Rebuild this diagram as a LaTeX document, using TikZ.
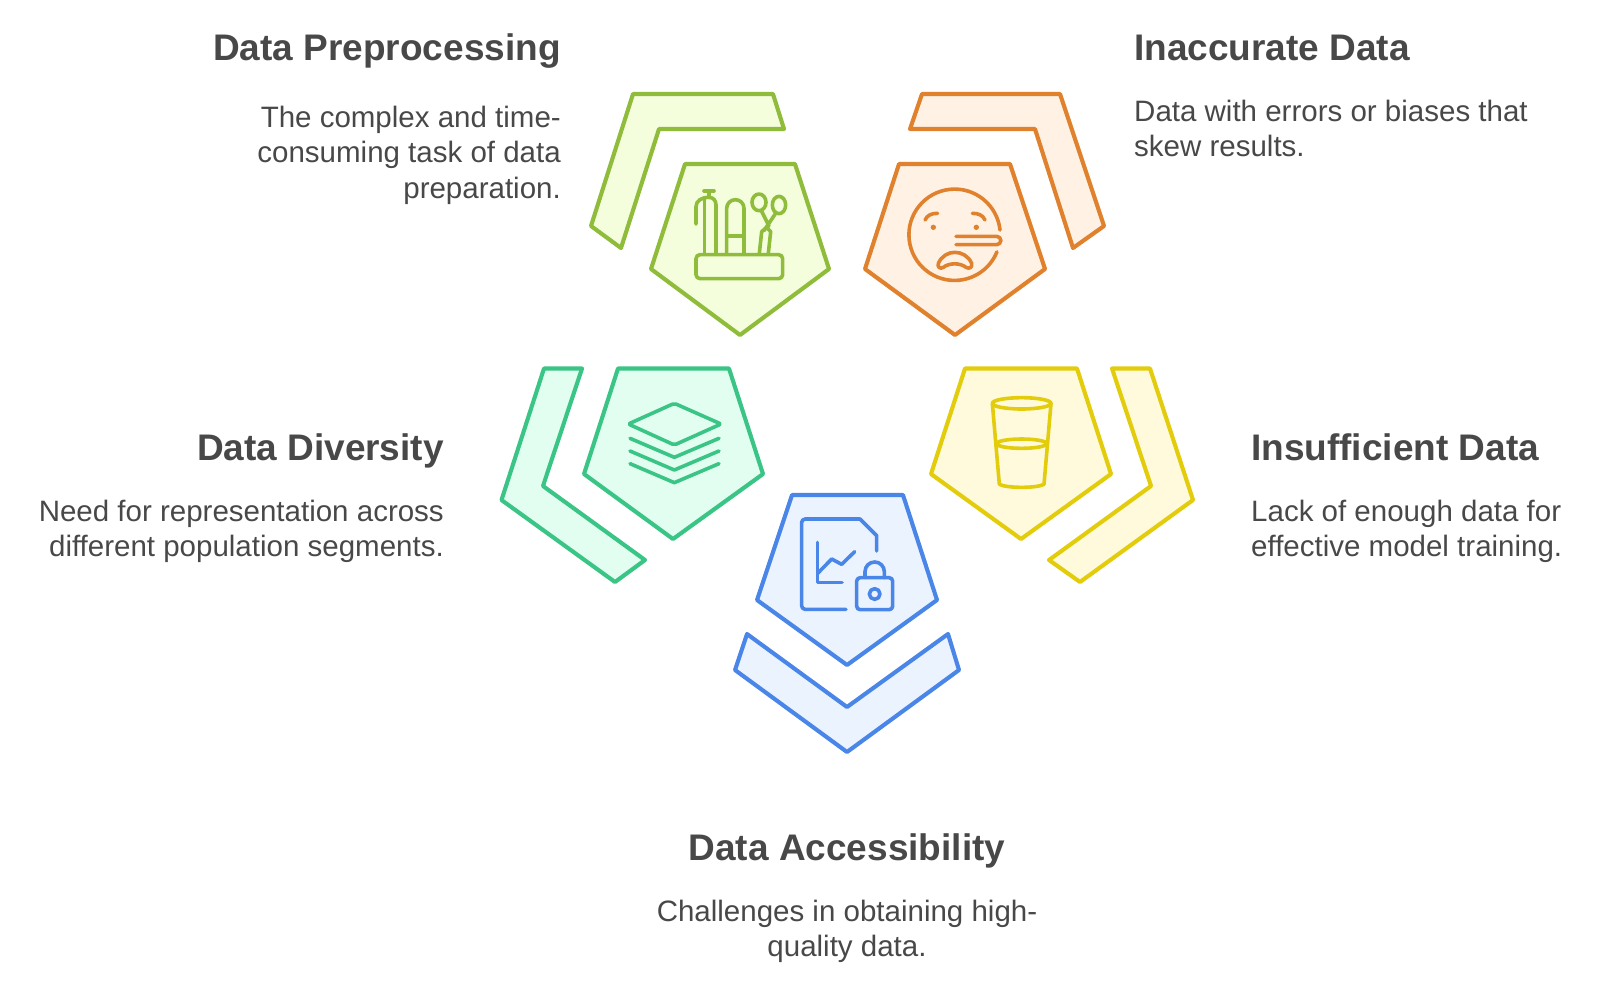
\documentclass[tikz,border=0pt]{standalone}
\usepackage{xcolor}
\usepackage{fontspec}
\setmainfont{Liberation Sans}
\definecolor{ink}{HTML}{484848}
\definecolor{lime}{HTML}{8FBC3B}
\definecolor{limebg}{HTML}{F4FEDD}
\definecolor{amber}{HTML}{E0812D}
\definecolor{amberbg}{HTML}{FFF1E4}
\definecolor{teal}{HTML}{3AC586}
\definecolor{tealbg}{HTML}{E2FEF0}
\definecolor{sun}{HTML}{E2CC0C}
\definecolor{sunbg}{HTML}{FFFADC}
\definecolor{azure}{HTML}{4A86E8}
\definecolor{azurebg}{HTML}{EBF3FF}
\tikzset{
  outline/.style={draw=#1, fill=#1bg, line width=4.1pt, line join=round},
  icon/.style={draw=#1, line width=3.6pt, line cap=round, line join=round},
  head/.style={text=ink, inner sep=0pt, font=\fontsize{37}{44}\selectfont\bfseries},
  body/.style={text=ink, inner sep=0pt, font=\fontsize{29.5}{35.3}\selectfont},
}
\begin{document}
\begin{tikzpicture}[x=1pt,y=-1pt]
  \useasboundingbox (0,0) rectangle (1600,988);
  % pentagons and bands
  \draw[outline=lime] (685,164) -- (795,164) -- (829,269) -- (740,335) -- (651,269) -- cycle;
  \draw[outline=lime] (633,94) -- (773,94) -- (784,129) -- (659,129) -- (621,248) -- (591,226) -- cycle;
  \draw[outline=amber] (899,164) -- (1010,164) -- (1045,269) -- (955,335) -- (865,269) -- cycle;
  \draw[outline=amber] (922,94) -- (1060,94) -- (1104,226) -- (1073,248) -- (1035,129) -- (910,129) -- cycle;
  \draw[outline=teal] (618,368.5) -- (729,368.5) -- (763,474) -- (673,539) -- (584,474) -- cycle;
  \draw[outline=teal] (544,368.5) -- (582,368.5) -- (543,486) -- (645,560) -- (615,582) -- (501.5,500) -- cycle;
  \draw[outline=sun] (965,368.5) -- (1077,368.5) -- (1111,474) -- (1021,539) -- (931,474) -- cycle;
  \draw[outline=sun] (1112,368.5) -- (1150,368.5) -- (1193,500) -- (1080,582) -- (1049,560) -- (1151,486) -- cycle;
  \draw[outline=azure] (792,495) -- (903,495) -- (937,600) -- (847,665) -- (757,600) -- cycle;
  \draw[outline=azure] (747,634) -- (847,707) -- (948,634) -- (959,670) -- (847,752) -- (735,670) -- cycle;
  % preprocessing icon
  \begin{scope}[shift={(570,80)},scale=1/3,icon=lime]
    \draw[rounded corners=4pt] (378,524) rectangle (638,596);
    \draw (402,333) -- (432,333) (417,333) -- (417,352);
    \draw (378,432) -- (378,380) .. controls (378,362) and (395,352) .. (417,352) .. controls (430,352) and (438,362) .. (438,375) -- (438,520);
    \draw (403,358) -- (403,520);
    \draw (470,520) -- (470,385) arc (180:360:26) -- (522,520) (470,468) -- (522,468);
    \draw (567,367) ellipse (21 and 25) (627,375) ellipse (20 and 26);
    \draw (575,394) -- (597,438) (617,400) -- (582,452);
    \draw (568,520) -- (575,455) -- (590,442) -- (602,455) -- (595,520);
  \end{scope}
  % inaccurate icon
  \begin{scope}[shift={(840,80)},scale=1/3,icon=amber]
    \draw (480,450) arc (-6:-338:137);
    \draw (255,420) .. controls (262,405) and (275,400) .. (293,400);
    \draw (397,400) .. controls (415,400) and (428,405) .. (435,420);
    \fill[amber] (280,442) circle (8) (409,442) circle (8);
    \draw (348,469) -- (470,469) arc (-90:90:12.5) -- (348,494);
    \draw (295,550) .. controls (305,528) and (325,517) .. (344,517) .. controls (365,517) and (385,528) .. (395,550) .. controls (398,562) and (388,568) .. (378,562) .. controls (360,548) and (328,548) .. (310,562) .. controls (300,568) and (292,562) .. (295,550) -- cycle;
  \end{scope}
  % diversity icon
  \begin{scope}[shift={(490,350)},scale=1/3,icon=teal]
    \draw[rounded corners=2pt] (553,160) -- (693,222) -- (553,285) -- (415,222) -- cycle;
    \foreach \n in {265,303,341}{
      \draw (420,\n) -- (553,\n+57) -- (687,\n);
    }
  \end{scope}
  % insufficient icon
  \begin{scope}[shift={(900,350)},scale=1/3,icon=sun]
    \draw (365,160) ellipse (88 and 17);
    \draw (277,160) -- (298,403) .. controls (320,415) and (410,415) .. (432,403) -- (453,160);
    \draw (365,281) ellipse (75 and 14);
  \end{scope}
  % accessibility icon
  \begin{scope}[shift={(710,475)},scale=1/3,icon=azure]
    \draw[rounded corners=3.5pt] (408,403) -- (275,403) -- (275,132) -- (450,132);
    \draw (450,132) -- (500,182) -- (500,228);
    \draw (323,202) -- (323,322) -- (396,322);
    \draw (323,295) -- (365,252) -- (395,268) -- (434,230);
    \draw[rounded corners=3.5pt] (440,308) rectangle (548,404);
    \draw (465,308) -- (465,290) arc (180:360:29) -- (523,308);
    \draw (494,357) circle (16);
  \end{scope}
  % labels
  \node[head,anchor=base east] (prephead) at (561,60) {Data Preprocessing};
  \node[body,anchor=north east,align=right] (prepbody) at (561,106) {The complex and time-\\consuming task of data\\preparation.};
  \node[head,anchor=base west] (inacchead) at (1134,60) {Inaccurate Data};
  \node[body,anchor=north west,align=left] (inaccbody) at (1134,100) {Data with errors or biases that\\skew results.};
  \node[head,anchor=base east] (divhead) at (444,460) {Data Diversity};
  \node[body,anchor=north east,align=right] (divbody) at (444,500) {Need for representation across\\different population segments.};
  \node[head,anchor=base west] (inshead) at (1251,460) {Insufficient Data};
  \node[body,anchor=north west,align=left] (insbody) at (1251,500) {Lack of enough data for\\effective model training.};
  \node[head,anchor=base] (acchead) at (847,860) {Data Accessibility};
  \node[body,anchor=north,align=center] (accbody) at (847,900) {Challenges in obtaining high-\\quality data.};
\end{tikzpicture}
\end{document}
